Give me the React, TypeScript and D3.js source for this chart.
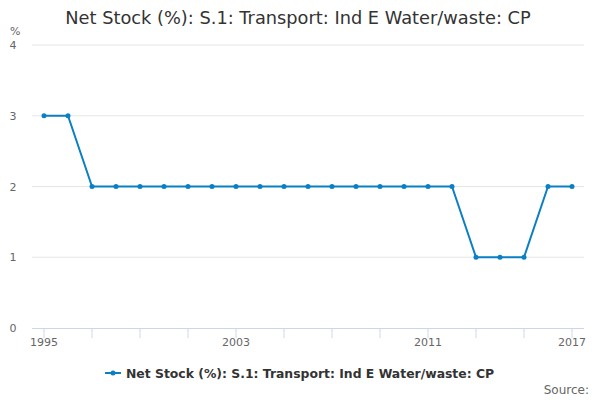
import * as d3 from 'd3'

const TITLE = 'Net Stock (%): S.1: Transport: Ind E Water/waste: CP'
const SERIES_NAME = 'Net Stock (%): S.1: Transport: Ind E Water/waste: CP'

const years = [
  1995, 1996, 1997, 1998, 1999, 2000, 2001, 2002, 2003, 2004, 2005, 2006,
  2007, 2008, 2009, 2010, 2011, 2012, 2013, 2014, 2015, 2016, 2017,
]
const values = [3, 3, 2, 2, 2, 2, 2, 2, 2, 2, 2, 2, 2, 2, 2, 2, 2, 2, 1, 1, 1, 2, 2]
const yTicks = [0, 1, 2, 3, 4]
const xTicks = [1995, 1997, 1999, 2001, 2003, 2005, 2007, 2009, 2011, 2013, 2015, 2017]
const xLabels = [1995, 2003, 2011, 2017]

const W = 600
const H = 400
const COLOR = '#0a7fc4'
const FONT = '"DejaVu Sans", sans-serif'

export default function App() {
  const x = d3.scaleLinear().domain([1995, 2017]).range([44, 572])
  const y = d3.scaleLinear().domain([0, 4]).range([328, 45])
  const path =
    d3
      .line<number>()
      .x((_, i) => x(years[i]))
      .y((v) => y(v))(values) ?? ''

  return (
    <svg
      width={W}
      height={H}
      viewBox={`0 0 ${W} ${H}`}
      style={{ position: 'absolute', left: 0, top: 0, fontFamily: FONT }}
    >
      <rect width={W} height={H} fill="#fff" />
      <text x={298} y={24} textAnchor="middle" fontSize={17.8} fill="#333">
        {TITLE}
      </text>
      <text x={10} y={35} fontSize={11} fill="#666">%</text>

      {yTicks.map((t) => (
        <g key={t}>
          {t > 0 && (
            <line x1={32} x2={584} y1={y(t)} y2={y(t)} stroke="#e6e6e6" strokeWidth={1} />
          )}
          <text x={13} y={y(t) + 4} fontSize={11} fill="#666" textAnchor="middle">
            {t}
          </text>
        </g>
      ))}

      <line x1={32} x2={584} y1={y(0) + 0.5} y2={y(0) + 0.5} stroke="#ccd6eb" />
      {xTicks.map((t) => (
        <line
          key={t}
          x1={x(t)}
          x2={x(t)}
          y1={y(0) + 0.5}
          y2={y(0) + 10}
          stroke="#ccd6eb"
        />
      ))}
      {xLabels.map((t) => (
        <text key={t} x={x(t)} y={346} fontSize={11} fill="#666" textAnchor="middle">
          {t}
        </text>
      ))}

      <path d={path} fill="none" stroke={COLOR} strokeWidth={2} strokeLinejoin="round" />
      {values.map((v, i) => (
        <circle key={i} cx={x(years[i])} cy={y(v)} r={2.5} fill={COLOR} />
      ))}

      <g transform="translate(105,373)">
        <line x1={0} x2={16} y1={0} y2={0} stroke={COLOR} strokeWidth={2} />
        <circle cx={8} cy={0} r={2.5} fill={COLOR} />
        <text x={21} y={4.5} fontSize={12.4} fontWeight="bold" fill="#333">
          {SERIES_NAME}
        </text>
      </g>

      <text x={589} y={394} fontSize={12} fill="#666" textAnchor="end">
        Source:
      </text>
    </svg>
  )
}
